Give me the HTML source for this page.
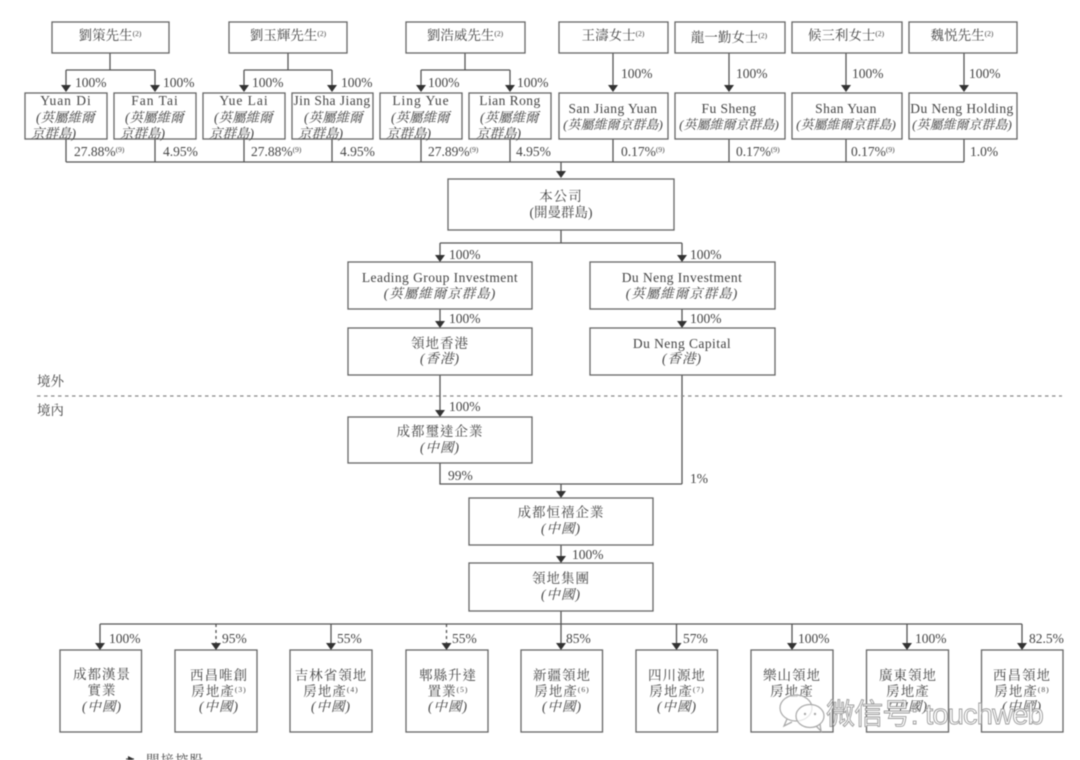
<!DOCTYPE html>
<html lang="zh-Hant"><head><meta charset="utf-8"><style>
html,body{margin:0;padding:0;background:#fff;width:1080px;height:760px;overflow:hidden}
svg{display:block;filter:blur(.45px)}
text{font-family:"Liberation Serif","Noto Serif CJK TC","Noto Serif CJK SC",serif;fill:#444;font-size:13.5px}
.c{text-anchor:middle;letter-spacing:1px}
.e{text-anchor:middle}
.l{text-anchor:middle;letter-spacing:.45px}
.i{font-style:italic}
.s{font-size:7.5px}
rect{fill:#fff;stroke:#666;stroke-width:1.3}
path{fill:none;stroke:#555;stroke-width:1.3}
</style></head><body>
<svg width="1080" height="760" viewBox="0 0 1080 760" xmlns="http://www.w3.org/2000/svg">
<!-- top connectors -->
<path d="M110 53V70M66 70H155M66 70V86M155 70V86M288 53V70M244 70H332M244 70V86M332 70V86M465 53V70M421 70H510M421 70V86M510 70V86M613 53V86M729 53V86M846 53V86M964 53V86"/>
<path d="M66 139V162M155 139V162M244 139V162M332 139V162M421 139V162M510 139V162M613 139V162M729 139V162M846 139V162M964 139V162M66 162H964M561 162V172"/>
<path d="M561 230V243M440 243H682M440 243V256M682 243V256M440 309V322M682 309V322M440 375V411M682 375V484M440 463V484H682M561 484V492M561 545V557"/>
<path d="M561 611V644M100 624H1022M100 624V644M331 624V644M676.500 624V644M792 624V644M907 624V644M1022 624V644"/>
<path d="M216 624V644M446.500 624V644" stroke-dasharray="3 3"/>
<path d="M37 396H1062" stroke-dasharray="3.500 3.500" style="stroke:#888"/>
<!-- arrowheads -->
<g fill="#333">
<polygon points="61,85 71,85 66,92"/><polygon points="150,85 160,85 155,92"/><polygon points="239,85 249,85 244,92"/><polygon points="327,85 337,85 332,92"/><polygon points="416,85 426,85 421,92"/><polygon points="505,85 515,85 510,92"/><polygon points="608,85 618,85 613,92"/><polygon points="724,85 734,85 729,92"/><polygon points="841,85 851,85 846,92"/><polygon points="959,85 969,85 964,92"/>
<polygon points="556,171 566,171 561,178"/><polygon points="435,255 445,255 440,262"/><polygon points="677,255 687,255 682,262"/><polygon points="435,321 445,321 440,328"/><polygon points="677,321 687,321 682,328"/><polygon points="435,410 445,410 440,417"/><polygon points="556,491 566,491 561,498"/><polygon points="556,556 566,556 561,563"/>
<polygon points="95,643 105,643 100,650"/><polygon points="211,643 221,643 216,650"/><polygon points="326,643 336,643 331,650"/><polygon points="441.500,643 451.500,643 446.500,650"/><polygon points="556,643 566,643 561,650"/><polygon points="671.500,643 681.500,643 676.500,650"/><polygon points="787,643 797,643 792,650"/><polygon points="902,643 912,643 907,650"/><polygon points="1017,643 1027,643 1022,650"/>
</g>
<!-- boxes -->
<rect x="52" y="22" width="117" height="31"/><rect x="229" y="22" width="118" height="31"/><rect x="406" y="22" width="119" height="31"/><rect x="559" y="22" width="109" height="31"/><rect x="675" y="22" width="110" height="31"/><rect x="792" y="22" width="110" height="31"/><rect x="909" y="22" width="108" height="31"/>
<rect x="25" y="93" width="82" height="46"/><rect x="114" y="93" width="82" height="46"/><rect x="203" y="93" width="82" height="46"/><rect x="292" y="93" width="81" height="46"/><rect x="380" y="93" width="82" height="46"/><rect x="469" y="93" width="82" height="46"/><rect x="559" y="93" width="109" height="46"/><rect x="675" y="93" width="110" height="46"/><rect x="792" y="93" width="110" height="46"/><rect x="909" y="93" width="108" height="46"/>
<rect x="448" y="179" width="226" height="51"/>
<rect x="348" y="262" width="184" height="47"/><rect x="590" y="262" width="185" height="47"/><rect x="348" y="328" width="184" height="47"/><rect x="590" y="328" width="185" height="47"/><rect x="348" y="417" width="184" height="46"/>
<rect x="469" y="498" width="184" height="47"/><rect x="469" y="563" width="184" height="48"/>
<rect x="60" y="650" width="81.500" height="82"/><rect x="175" y="650" width="82" height="82"/><rect x="290" y="650" width="82" height="82"/><rect x="406" y="650" width="82" height="82"/><rect x="521" y="650" width="81.500" height="82"/><rect x="636" y="650" width="81.500" height="82"/><rect x="751" y="650" width="82" height="82"/><rect x="866.500" y="650" width="82" height="82"/><rect x="981.500" y="650" width="81.500" height="82"/>
<!-- person labels -->
<text x="110" y="40" class="e">劉策先生<tspan class="s" dy="-4">(2)</tspan></text>
<text x="288" y="40" class="e">劉玉輝先生<tspan class="s" dy="-4">(2)</tspan></text>
<text x="465" y="40" class="e">劉浩威先生<tspan class="s" dy="-4">(2)</tspan></text>
<text x="613" y="40" class="e">王濤女士<tspan class="s" dy="-4">(2)</tspan></text>
<text x="729" y="42" class="e">龍一勤女士<tspan class="s" dy="-4">(2)</tspan></text>
<text x="846" y="40" class="e">候三利女士<tspan class="s" dy="-4">(2)</tspan></text>
<text x="962" y="40" class="e">魏悦先生<tspan class="s" dy="-4">(2)</tspan></text>
<!-- second row -->
<text x="66" y="105" class="c">Yuan Di</text><text x="155" y="105" class="c">Fan Tai</text><text x="244" y="105" class="c">Yue Lai</text><text x="332" y="105" class="l">Jin Sha Jiang</text><text x="421" y="105" class="c">Ling Yue</text><text x="510" y="105" class="l">Lian Rong</text>
<text x="36" y="122" class="i">(英屬維爾</text><text x="125" y="122" class="i">(英屬維爾</text><text x="214" y="122" class="i">(英屬維爾</text><text x="304" y="122" class="i">(英屬維爾</text><text x="391" y="122" class="i">(英屬維爾</text><text x="480" y="122" class="i">(英屬維爾</text>
<text x="31" y="138" class="i">京群島)</text><text x="120" y="138" class="i">京群島)</text><text x="209" y="138" class="i">京群島)</text><text x="298" y="138" class="i">京群島)</text><text x="386" y="138" class="i">京群島)</text><text x="476" y="138" class="i">京群島)</text>
<text x="613" y="113" class="l">San Jiang Yuan</text><text x="729" y="113" class="l">Fu Sheng</text><text x="846" y="113" class="l">Shan Yuan</text><text x="962" y="113" class="l">Du Neng Holding</text>
<text x="613" y="129" class="e i" style="font-size:13px">(英屬維爾京群島)</text><text x="729" y="129" class="e i" style="font-size:13px">(英屬維爾京群島)</text><text x="846" y="129" class="e i" style="font-size:13px">(英屬維爾京群島)</text><text x="962" y="129" class="e i" style="font-size:13px">(英屬維爾京群島)</text>
<!-- percents top -->
<text x="75" y="87">100%</text><text x="163" y="87">100%</text><text x="252" y="87">100%</text><text x="341" y="87">100%</text><text x="428" y="87">100%</text><text x="517" y="87">100%</text>
<text x="621" y="78">100%</text><text x="736" y="78">100%</text><text x="852" y="78">100%</text><text x="969" y="78">100%</text>
<text x="74" y="156">27.88%<tspan class="s" dy="-4">(9)</tspan></text><text x="163" y="156">4.95%</text><text x="251" y="156">27.88%<tspan class="s" dy="-4">(9)</tspan></text><text x="340" y="156">4.95%</text><text x="428" y="156">27.89%<tspan class="s" dy="-4">(9)</tspan></text><text x="516" y="156">4.95%</text>
<text x="621" y="156">0.17%<tspan class="s" dy="-4">(9)</tspan></text><text x="736" y="156">0.17%<tspan class="s" dy="-4">(9)</tspan></text><text x="851" y="156">0.17%<tspan class="s" dy="-4">(9)</tspan></text><text x="970" y="156">1.0%</text>
<!-- centre -->
<text x="561" y="201" class="c">本公司</text><text x="561" y="217" class="e">(開曼群島)</text>
<text x="449" y="259">100%</text><text x="690" y="259">100%</text>
<text x="440" y="282" class="l">Leading Group Investment</text><text x="682" y="282" class="l">Du Neng Investment</text>
<text x="440" y="298" class="c i">(英屬維爾京群島)</text><text x="682" y="298" class="c i">(英屬維爾京群島)</text>
<text x="449" y="323">100%</text><text x="690" y="323">100%</text>
<text x="440" y="348" class="c">領地香港</text><text x="682" y="348" class="l">Du Neng Capital</text>
<text x="440" y="363" class="c i">(香港)</text><text x="682" y="363" class="c i">(香港)</text>
<text x="37" y="386">境外</text><text x="37" y="415">境內</text>
<text x="449" y="411">100%</text>
<text x="440" y="436" class="c">成都璽達企業</text><text x="440" y="452" class="c i">(中國)</text>
<text x="448" y="480">99%</text><text x="690" y="483">1%</text>
<text x="561" y="517" class="c">成都恒禧企業</text><text x="561" y="533" class="c i">(中國)</text>
<text x="572" y="559">100%</text>
<text x="561" y="583" class="c">領地集團</text><text x="561" y="599" class="c i">(中國)</text>
<!-- bottom percents -->
<text x="109" y="643">100%</text><text x="222" y="643">95%</text><text x="337" y="643">55%</text><text x="452" y="643">55%</text><text x="566" y="643">85%</text><text x="683" y="643">57%</text><text x="798" y="643">100%</text><text x="915" y="643">100%</text><text x="1029" y="643">82.5%</text>
<!-- bottom boxes -->
<text x="102" y="679" class="c">成都漢景</text><text x="102" y="695" class="c">實業</text><text x="102" y="711" class="c i">(中國)</text>
<text x="219" y="680" class="c">西昌唯創</text><text x="219" y="696" class="c">房地產<tspan class="s" dy="-4">(3)</tspan></text><text x="219" y="711" class="c i">(中國)</text>
<text x="331" y="680" class="c">吉林省領地</text><text x="331" y="696" class="c">房地產<tspan class="s" dy="-4">(4)</tspan></text><text x="331" y="711" class="c i">(中國)</text>
<text x="448" y="680" class="c">郫縣升達</text><text x="448" y="696" class="c">置業<tspan class="s" dy="-4">(5)</tspan></text><text x="448" y="711" class="c i">(中國)</text>
<text x="562" y="680" class="c">新疆領地</text><text x="562" y="696" class="c">房地產<tspan class="s" dy="-4">(6)</tspan></text><text x="562" y="711" class="c i">(中國)</text>
<text x="677" y="680" class="c">四川源地</text><text x="677" y="696" class="c">房地產<tspan class="s" dy="-4">(7)</tspan></text><text x="677" y="711" class="c i">(中國)</text>
<text x="792" y="680" class="c">樂山領地</text><text x="792" y="696" class="c">房地產</text>
<text x="908" y="680" class="c">廣東領地</text><text x="908" y="696" class="c">房地產</text><text x="908" y="711" class="c i">(中國)</text>
<text x="1022" y="680" class="c">西昌領地</text><text x="1022" y="696" class="c">房地產<tspan class="s" dy="-4">(8)</tspan></text><text x="1022" y="711" class="c i">(中國)</text>
<!-- legend -->
<path d="M126 759H134"/><polygon points="128,756 134,759 128,762" fill="#333"/>
<text x="146" y="765" style="letter-spacing:1px">間接控股</text>
<!-- watermark -->
<ellipse cx="796" cy="708" rx="16" ry="13" fill="#fff" fill-opacity=".7" stroke="#aaa" stroke-width="1.200"/>
<ellipse cx="810" cy="716" rx="14" ry="11.500" fill="#fff" fill-opacity=".7" stroke="#aaa" stroke-width="1.200"/>
<path d="M787 719l-3 7 8-4M816 726l5 5-1-7" style="stroke:#aaa"/>
<circle cx="805" cy="714" r="1.200" fill="#aaa"/><circle cx="815" cy="714" r="1.200" fill="#aaa"/>
<text x="826" y="724" style="font-family:'Liberation Sans','Noto Sans CJK SC',sans-serif;font-size:29px;fill:#fff;stroke:#9a9a9a;stroke-width:.9px;letter-spacing:.3px" textLength="218">微信号: touchweb</text>
</svg>
</body></html>
